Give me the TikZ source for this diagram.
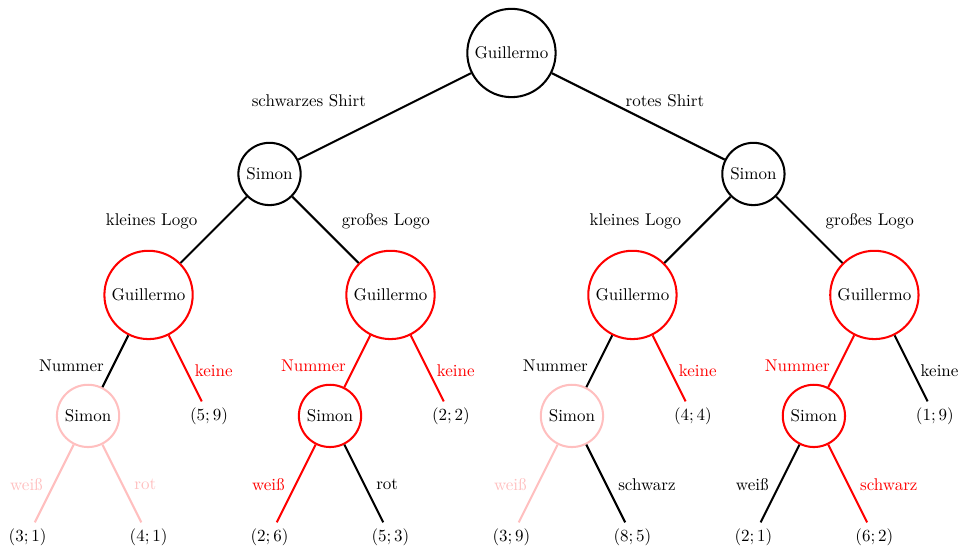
\documentclass[tikz,border=0pt]{standalone}
\usepackage{xcolor}
\begin{document}
\begin{tikzpicture}[
    player/.style={draw, circle, very thick},
    zug/.style={very thick},
    pale/.style={red!25}
]
\useasboundingbox (-10.57,-10.25) rectangle (9.29,1.095);
% Spieler
\node[player] (g) at (0,0) {Guillermo};
\node[player] (s1) at (-5,-2.5) {Simon};
\node[player] (s2) at (5,-2.5) {Simon};
\node[player, draw=red] (g11) at (-7.5,-5) {Guillermo};
\node[player, draw=red] (g12) at (-2.5,-5) {Guillermo};
\node[player, draw=red] (g21) at (2.5,-5) {Guillermo};
\node[player, draw=red] (g22) at (7.5,-5) {Guillermo};
\node[player, draw=red!25] (s111) at (-8.75,-7.5) {Simon};
\node[player, draw=red] (s121) at (-3.75,-7.5) {Simon};
\node[player, draw=red!25] (s211) at (1.25,-7.5) {Simon};
\node[player, draw=red] (s221) at (6.25,-7.5) {Simon};
% Auszahlungen
\node (p112) at (-6.25,-7.5) {$(5;9)$};
\node (p122) at (-1.25,-7.5) {$(2;2)$};
\node (p212) at (3.75,-7.5) {$(4;4)$};
\node (p222) at (8.75,-7.5) {$(1;9)$};
\node (p1111) at (-10,-10) {$(3;1)$};
\node (p1112) at (-7.5,-10) {$(4;1)$};
\node (p1211) at (-5,-10) {$(2;6)$};
\node (p1212) at (-2.5,-10) {$(5;3)$};
\node (p2111) at (0,-10) {$(3;9)$};
\node (p2112) at (2.5,-10) {$(8;5)$};
\node (p2211) at (5,-10) {$(2;1)$};
\node (p2212) at (7.5,-10) {$(6;2)$};
% Shirt
\draw[zug] (g) -- (s1) node[pos=0.5, above left, xshift=-0.25cm, yshift=0.05cm] {schwarzes Shirt};
\draw[zug] (g) -- (s2) node[pos=0.5, above right, xshift=-0.4cm, yshift=0.05cm] {rotes Shirt};
% Logo
\draw[zug] (s1) -- (g11) node[pos=0.5, above left, xshift=-0.2cm, yshift=-0.12cm] {kleines Logo};
\draw[zug] (s1) -- (g12) node[pos=0.5, above right, xshift=0.2cm, yshift=-0.12cm] {gro\ss es Logo};
\draw[zug] (s2) -- (g21) node[pos=0.5, above left, xshift=-0.2cm, yshift=-0.12cm] {kleines Logo};
\draw[zug] (s2) -- (g22) node[pos=0.5, above right, xshift=0.2cm, yshift=-0.12cm] {gro\ss es Logo};
% Nummer
\draw[zug] (g11) -- (s111) node[pos=0.5, left, xshift=-0.1cm, yshift=-0.1cm] {Nummer};
\draw[zug, red] (g11) -- (p112) node[pos=0.5, right, xshift=0.06cm, yshift=-0.04cm] {keine};
\draw[zug, red] (g12) -- (s121) node[pos=0.5, left, xshift=-0.1cm, yshift=-0.1cm] {Nummer};
\draw[zug, red] (g12) -- (p122) node[pos=0.5, right, xshift=0.06cm, yshift=-0.04cm] {keine};
\draw[zug] (g21) -- (s211) node[pos=0.5, left, xshift=-0.1cm, yshift=-0.1cm] {Nummer};
\draw[zug, red] (g21) -- (p212) node[pos=0.5, right, xshift=0.06cm, yshift=-0.04cm] {keine};
\draw[zug, red] (g22) -- (s221) node[pos=0.5, left, xshift=-0.1cm, yshift=-0.1cm] {Nummer};
\draw[zug] (g22) -- (p222) node[pos=0.5, right, xshift=0.06cm, yshift=-0.04cm] {keine};
% Farbe
\draw[zug, pale] (s111) -- (p1111) node[pos=0.5, left, xshift=-0.1cm, yshift=-0.03cm] {wei\ss};
\draw[zug, pale] (s111) -- (p1112) node[pos=0.5, right, xshift=0.12cm, yshift=-0.02cm] {rot};
\draw[zug, red] (s121) -- (p1211) node[pos=0.5, left, xshift=-0.1cm, yshift=-0.03cm] {wei\ss};
\draw[zug] (s121) -- (p1212) node[pos=0.5, right, xshift=0.12cm, yshift=-0.02cm] {rot};
\draw[zug, pale] (s211) -- (p2111) node[pos=0.5, left, xshift=-0.1cm, yshift=-0.03cm] {wei\ss};
\draw[zug] (s211) -- (p2112) node[pos=0.5, right, xshift=0.12cm, yshift=-0.02cm] {schwarz};
\draw[zug] (s221) -- (p2211) node[pos=0.5, left, xshift=-0.1cm, yshift=-0.03cm] {wei\ss};
\draw[zug, red] (s221) -- (p2212) node[pos=0.5, right, xshift=0.12cm, yshift=-0.02cm] {schwarz};
\end{tikzpicture}
\end{document}
